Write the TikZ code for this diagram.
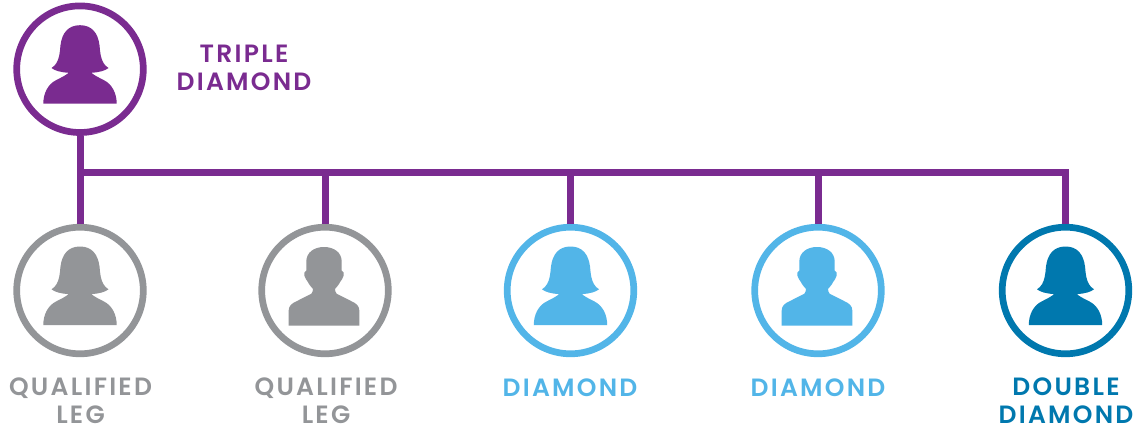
\documentclass[tikz,border=0pt]{standalone}
\usepackage{fontspec}
\newfontfamily\labfont[LetterSpace=9]{Poppins SemiBold}
\definecolor{cpurple}{HTML}{7A2B90}
\definecolor{cgray}{HTML}{939598}
\definecolor{clight}{HTML}{52B5E8}
\definecolor{cblue}{HTML}{0078AE}
\tikzset{
  x=1pt,y=-1pt,
  ring/.style={circle,draw=#1,line width=6.7pt,fill=white,minimum size=126.6pt,inner sep=0pt},
  conn/.style={draw=cpurple,line width=7pt,line join=miter},
  lab/.style={text=#1,font=\labfont\fontsize{25}{28}\selectfont,align=center,anchor=base,inner sep=0pt},
  female/.pic={
    \path[pic actions] (0,-44)
      .. controls (12,-44) and (18,-36) .. (19.5,-24)
      .. controls (20,-20) and (20,-17) .. (20.7,-14)
      .. controls (22,-8) and (24,-4) .. (28.5,-1.2)
      .. controls (25,1.5) and (20,3) .. (11.3,3.6)
      .. controls (14,6) and (20,9) .. (24,11)
      .. controls (32,15) and (36.7,24) .. (36.7,34.5)
      -- (-36.7,34.5)
      .. controls (-36.7,24) and (-32,15) .. (-24,11)
      .. controls (-20,9) and (-14,6) .. (-11.3,3.6)
      .. controls (-20,3) and (-25,1.5) .. (-28.5,-1.2)
      .. controls (-24,-4) and (-22,-8) .. (-20.7,-14)
      .. controls (-20,-17) and (-20,-20) .. (-19.5,-24)
      .. controls (-18,-36) and (-12,-44) .. (0,-44) -- cycle;
  },
  male/.pic={
    \path[pic actions] (-1,-43.5)
      .. controls (9,-43.5) and (16.7,-38) .. (16.7,-29)
      -- (16.7,-20)
      .. controls (18.5,-20) and (19,-17) .. (18.7,-15)
      .. controls (18.3,-12) and (16,-10.5) .. (15,-8.3)
      .. controls (13.5,-5) and (11,-3) .. (10,-1.5)
      .. controls (10,0) and (10.5,2) .. (11.7,3.3)
      -- (26,10.5)
      .. controls (32,13) and (34.3,16) .. (34.3,20)
      -- (34.3,35) -- (-36.3,35) -- (-36.3,20)
      .. controls (-36.3,16) and (-34,13) .. (-28,10.5)
      -- (-13.7,3.3)
      .. controls (-12.5,2) and (-12,0) .. (-12,-1.5)
      .. controls (-13,-3) and (-15.5,-5) .. (-17,-8.3)
      .. controls (-18,-10.5) and (-20.3,-12) .. (-20.7,-15)
      .. controls (-21,-17) and (-20.5,-20) .. (-18.7,-20)
      -- (-18.7,-29)
      .. controls (-18.7,-38) and (-11,-43.5) .. (-1,-43.5) -- cycle;
  }
}
\begin{document}
\begin{tikzpicture}
\useasboundingbox (0,0) rectangle (1134,428);
\node[ring=cpurple] (top) at (80,69.2) {};
\node[ring=cgray] (n1) at (80,290.5) {};
\node[ring=cgray] (n2) at (325,290.5) {};
\node[ring=clight] (n3) at (570.5,290.5) {};
\node[ring=clight] (n4) at (818,290.5) {};
\node[ring=cblue] (n5) at (1065.5,290.5) {};
\coordinate (busl) at (80,172.5);
\draw[conn] (top.south) -- (n1.north);
\draw[conn] (busl) -| (n5.north);
\draw[conn] (n2.north) -- (n2.north |- busl);
\draw[conn] (n3.north) -- (n3.north |- busl);
\draw[conn] (n4.north) -- (n4.north |- busl);
\pic[fill=cpurple] at (top.center) {female};
\pic[fill=cgray] at (n1.center) {female};
\pic[fill=cgray] at (n2.center) {male};
\pic[fill=clight] at (n3.center) {female};
\pic[fill=clight] at (n4.center) {male};
\pic[fill=cblue] at (n5.center) {female};
\node[lab=cpurple] (ltop) at (244,90.7) {TRIPLE\\DIAMOND};
\node[lab=cgray] (l1) at (80.5,423) {QUALIFIED\\LEG};
\node[lab=cgray] (l2) at (326,423) {QUALIFIED\\LEG};
\node[lab=clight] (l3) at (570,396) {DIAMOND};
\node[lab=clight] (l4) at (818,396) {DIAMOND};
\node[lab=cblue] (l5) at (1066,423) {DOUBLE\\DIAMOND};
\end{tikzpicture}
\end{document}
